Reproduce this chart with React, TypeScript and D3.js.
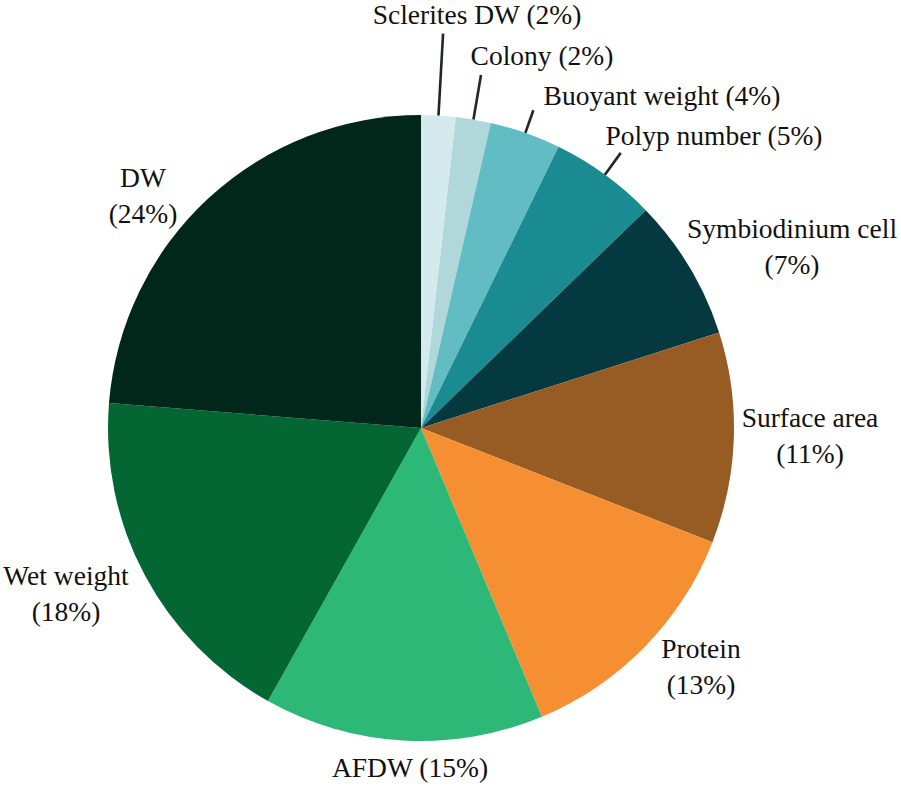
import { useEffect, useRef } from 'react'
import * as d3 from 'd3'

// slices clockwise from 12 o'clock
const categories = ['Sclerites DW', 'Colony', 'Buoyant weight', 'Polyp number', 'Symbiodinium cell',
  'Surface area', 'Protein', 'AFDW', 'Wet weight', 'DW']
const shares = [1.78, 1.8, 3.66, 5.51, 7.32, 10.87, 12.75, 14.44, 18.14, 23.73]
const shownPercent = [2, 2, 4, 5, 7, 11, 13, 15, 18, 24]
const colors = ['#d5eaec', '#b0d7d9', '#62bcc3', '#1a8b91', '#03393f',
  '#975b24', '#f58f32', '#2db877', '#036633', '#00271a']

// label layout: offset of text centre from pie centre, line break, leader length
const labelLayout = [
  { dx: 56, dy: -404, split: false, leader: 82 },
  { dx: 121, dy: -363, split: false, leader: 45 },
  { dx: 241, dy: -323, split: false, leader: 24 },
  { dx: 293, dy: -283, split: false, leader: 27 },
  { dx: 371, dy: -190, split: true, leader: 0 },
  { dx: 389, dy: -1, split: true, leader: 0 },
  { dx: 280, dy: 230, split: true, leader: 0 },
  { dx: -11, dy: 349, split: false, leader: 0 },
  { dx: -355, dy: 157, split: true, leader: 0 },
  { dx: -278, dy: -241, split: true, leader: 0 },
]

const W = 901
const H = 787
const cx = 421
const cy = 428
const R = 313
const lineGap = 36

function App() {
  const ref = useRef<SVGSVGElement>(null)

  useEffect(() => {
    const svg = d3.select(ref.current)
    svg.selectAll('*').remove()
    const g = svg.append('g').attr('transform', `translate(${cx},${cy})`)

    const arcs = d3.pie<number>().sort(null).value(d => d)(shares)
    const arcGen = d3.arc<d3.PieArcDatum<number>>().innerRadius(0).outerRadius(R)

    g.selectAll('path.slice')
      .data(arcs)
      .join('path')
      .attr('class', 'slice')
      .attr('d', d => arcGen(d))
      .attr('fill', (d, i) => colors[i])

    const mid = (d: d3.PieArcDatum<number>) => (d.startAngle + d.endAngle) / 2
    g.selectAll('line.leader')
      .data(arcs.filter((d, i) => labelLayout[i].leader > 0))
      .join('line')
      .attr('class', 'leader')
      .attr('x1', d => Math.sin(mid(d)) * R)
      .attr('y1', d => -Math.cos(mid(d)) * R)
      .attr('x2', d => Math.sin(mid(d)) * (R + labelLayout[d.index].leader))
      .attr('y2', d => -Math.cos(mid(d)) * (R + labelLayout[d.index].leader))
      .attr('stroke', '#1c2a1f')
      .attr('stroke-width', 2.6)

    categories.forEach((c, i) => {
      const lay = labelLayout[i]
      const pct = `(${shownPercent[i]}%)`
      const rows = lay.split ? [c, pct] : [`${c} ${pct}`]
      rows.forEach((s, k) => {
        g.append('text')
          .attr('x', lay.dx)
          .attr('y', lay.dy + k * lineGap)
          .attr('text-anchor', 'middle')
          .attr('fill', '#111')
          .attr('font-family', 'Liberation Serif')
          .attr('font-size', 27.5)
          .text(s)
      })
    })
  }, [])

  return (
    <svg ref={ref} width={W} height={H} style={{ position: 'absolute', left: 0, top: 0, background: '#fff' }} />
  )
}

export default App
